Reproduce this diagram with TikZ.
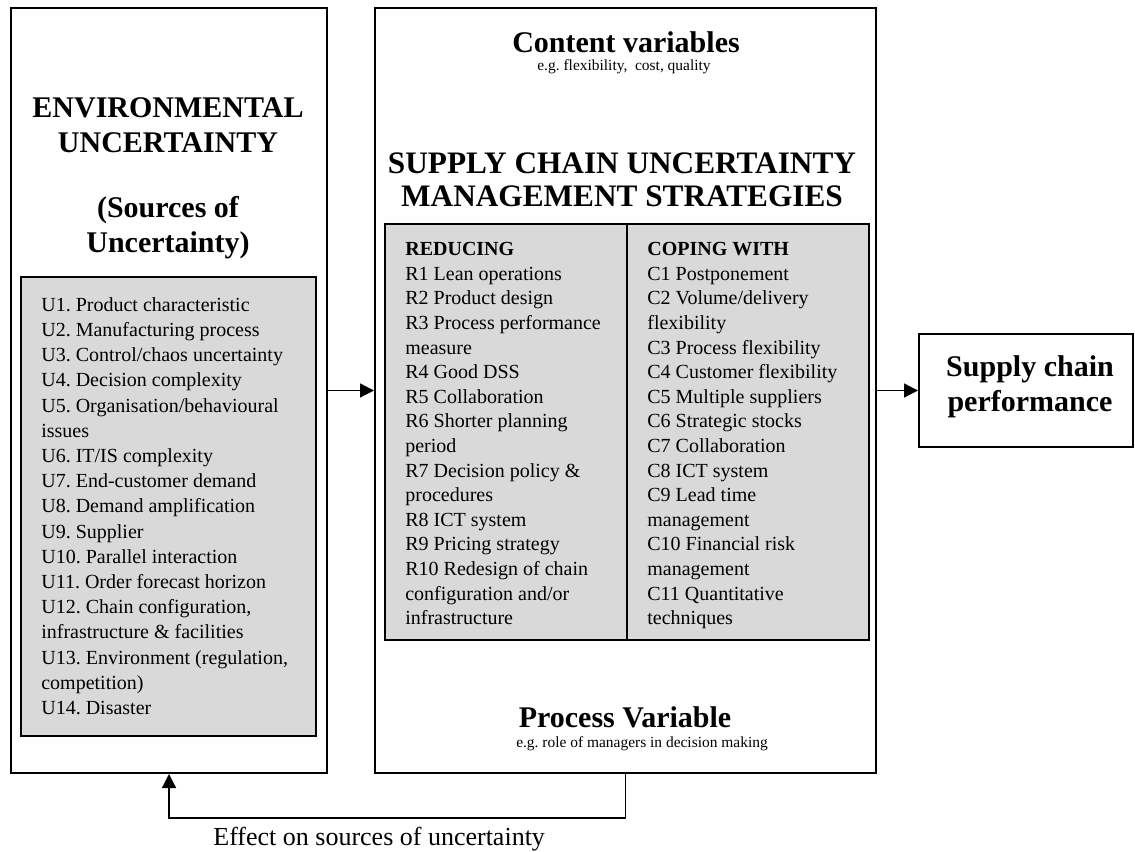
\documentclass[tikz,border=0pt]{standalone}
\usepackage{fontspec}
\setmainfont{Liberation Serif}
\usetikzlibrary{arrows.meta}
\frenchspacing

\definecolor{panelgray}{RGB}{217,217,217}

\tikzset{
  frame/.style={draw, line width=1.1pt, inner sep=0pt},
  panel/.style={frame, fill=panelgray},
  heading/.style={font=\fontsize{16.5}{19.2}\selectfont\bfseries, align=center, inner sep=0pt},
  hint/.style={font=\fontsize{8.5}{10}\selectfont, inner sep=0pt},
  itemlist/.style={font=\fontsize{11}{13.86}\selectfont, align=left, anchor=north west, inner sep=0pt},
  flow/.style={line width=0.7pt, -{Triangle[length=7.7pt,width=7.7pt]}},
}

\begin{document}
\begin{tikzpicture}[x=0.55pt,y=-0.55pt]
  \useasboundingbox (0,0) rectangle (1135,852);

  % boxes
  \node[frame, minimum width=173.8pt, minimum height=420.75pt] (env) at (169,390.5) {};
  \node[panel, minimum width=162.25pt, minimum height=252.45pt] (envlist) at (168.5,506.5) {};
  \node[frame, minimum width=275.55pt, minimum height=420.75pt] (scum) at (625.5,390.5) {};
  \node[panel, minimum width=133.1pt, minimum height=228.8pt] (reduce) at (506,432) {};
  \node[panel, minimum width=133.1pt, minimum height=228.8pt] (cope) at (748,432) {};
  \node[frame, minimum width=117.7pt, minimum height=62.15pt] (perf) at (1026,390.5) {};

  % left box texts
  \node[heading, anchor=north] (envhead) at (168,97) {ENVIRONMENTAL\\UNCERTAINTY};
  \node[heading, anchor=north] (srchead) at (168,196) {(Sources of\\Uncertainty)};
  \node[itemlist] (envitems) at (41,297) {U1. Product characteristic\\
    U2. Manufacturing process\\
    U3. Control/chaos uncertainty\\
    U4. Decision complexity\\
    U5. Organisation/behavioural\\issues\\
    U6. IT/IS complexity\\
    U7. End-customer demand\\
    U8. Demand amplification\\
    U9. Supplier\\
    U10. Parallel interaction\\
    U11. Order forecast horizon\\
    U12. Chain configuration,\\infrastructure \& facilities\\
    U13. Environment (regulation,\\competition)\\
    U14. Disaster};

  % middle box texts
  \node[heading, anchor=north] (conthead) at (626,31) {Content variables};
  \node[hint, anchor=north] (conthint) at (624,59) {e.g. flexibility,~ cost, quality};
  \node[heading, anchor=north, font=\fontsize{17.2}{18.2}\selectfont\bfseries] (scumhead) at (622,152) {SUPPLY CHAIN UNCERTAINTY\\MANAGEMENT STRATEGIES};
  \node[itemlist, font=\fontsize{11}{13.53}\selectfont] (reditems) at (405,242) {\textbf{REDUCING}\\
    R1 Lean operations\\
    R2 Product design\\
    R3 Process performance\\measure\\
    R4 Good DSS\\
    R5 Collaboration\\
    R6 Shorter planning\\period\\
    R7 Decision policy \&\\procedures\\
    R8 ICT system\\
    R9 Pricing strategy\\
    R10 Redesign of chain\\configuration and/or\\infrastructure};
  \node[itemlist, font=\fontsize{11}{13.53}\selectfont] (copitems) at (647,242) {\textbf{COPING WITH}\\
    C1 Postponement\\
    C2 Volume/delivery\\flexibility\\
    C3 Process flexibility\\
    C4 Customer flexibility\\
    C5 Multiple suppliers\\
    C6 Strategic stocks\\
    C7 Collaboration\\
    C8 ICT system\\
    C9 Lead time\\management\\
    C10 Financial risk\\management\\
    C11 Quantitative\\techniques};
  \node[heading, anchor=north] (prochead) at (625,706) {Process Variable};
  \node[hint, anchor=north] (prochint) at (642,736) {e.g. role of managers in decision making};

  % right box
  \node[heading, anchor=north] (perftext) at (1030,355) {Supply chain\\performance};

  % connectors
  \draw[flow] (env.east) -- (scum.west);
  \draw[flow] (scum.east) -- (perf.west);
  \draw[flow] (scum.south) -- ++(0,44) coordinate (fbturn) -| (env.south);
  \node[anchor=base west, inner sep=0pt, font=\fontsize{14.3}{17}\selectfont] (effect) at (213,845) {Effect on sources of uncertainty};
\end{tikzpicture}
\end{document}
